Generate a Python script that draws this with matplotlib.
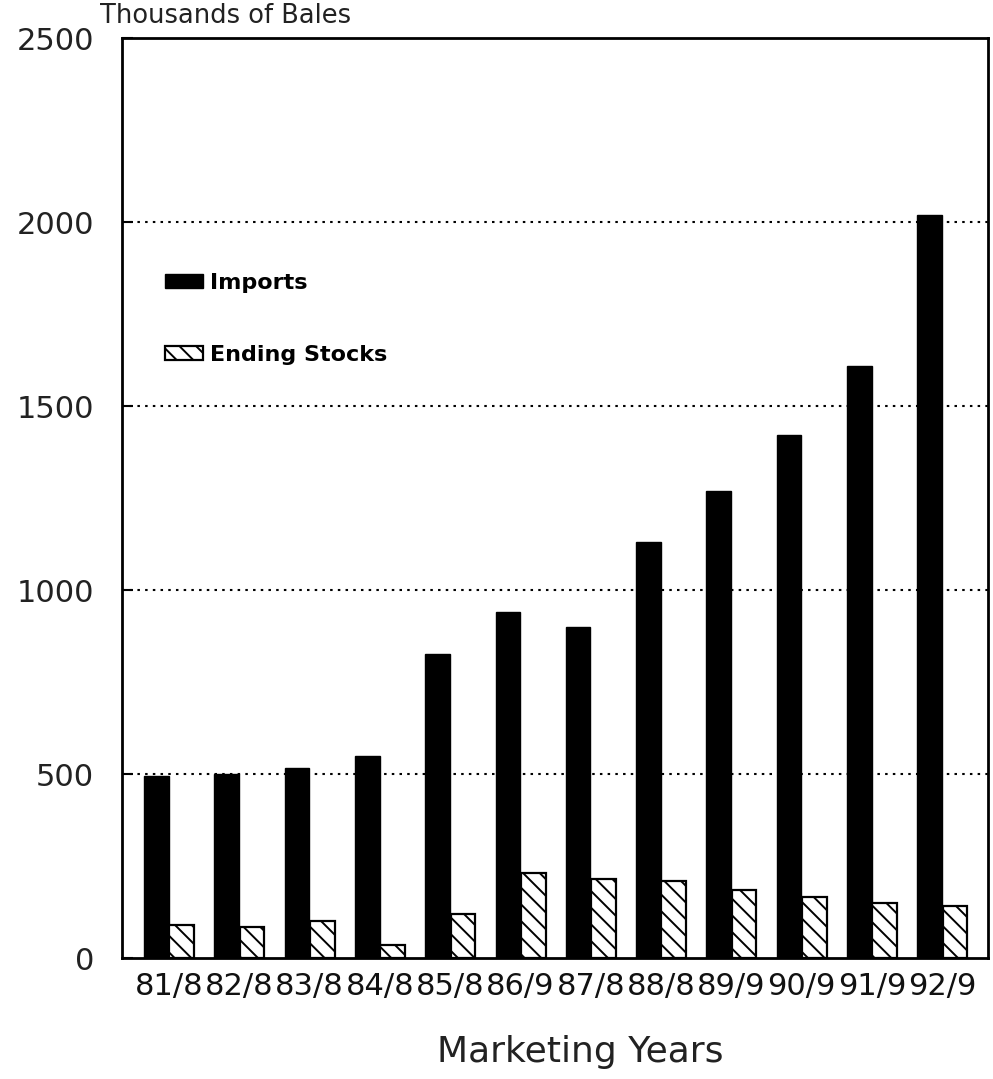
import matplotlib
matplotlib.use("Agg")
import matplotlib.pyplot as plt
import numpy as np

years = ["81/8", "82/8", "83/8", "84/8", "85/8", "86/9", "87/8", "88/8", "89/9", "90/9", "91/9", "92/9"]
imports = [495, 500, 515, 550, 825, 940, 900, 1130, 1270, 1420, 1610, 2020]
ending_stocks = [90, 85, 100, 35, 120, 230, 215, 210, 185, 165, 150, 140]
yticks = [0, 500, 1000, 1500, 2000, 2500]
ytick_labels = ["0", "500", "1000", "1500", "2000", "2500"]

plt.rcParams['font.family'] = ['DejaVu Sans']
plt.rcParams['hatch.linewidth'] = 1.4

fig = plt.figure(figsize=(9.93, 10.79), dpi=100)
ax = fig.add_axes([122/993, 1-958/1079, 866/993, 920/1079])

x = np.arange(len(years))
w = 0.35
ax.bar(x - 0.18, imports, width=w, color='black', edgecolor='black', label='Imports', zorder=3)
ax.bar(x + 0.18, ending_stocks, width=w, color='white', edgecolor='black', linewidth=1.6,
       hatch='\\\\', label='Ending Stocks', zorder=3)

ax.set_xlim(-0.67, 11.65)
ax.set_ylim(0, 2500)
ax.set_yticks(yticks)
ax.set_yticklabels(ytick_labels, fontsize=22, color='#222222')
ax.set_xticks(x)
ax.set_xticklabels(years, fontsize=22, color='#111111')
ax.tick_params(axis='y', direction='in', length=8, width=1.5, pad=20)
ax.tick_params(axis='x', length=0, pad=10)

for v in [500, 1000, 1500, 2000]:
    ax.axhline(v, color='black', linestyle=(0, (1.2, 2.5)), linewidth=1.5, zorder=1)

for s in ax.spines.values():
    s.set_linewidth(2)
    s.set_color('black')

leg = ax.legend(loc='upper left', bbox_to_anchor=(0.05, 0.745), frameon=False,
                prop={'weight': 'bold', 'size': 16}, handlelength=1.7, handleheight=0.6,
                labelspacing=2.35, handletextpad=0.3, borderpad=0, borderaxespad=0)

fig.text(100/993, 1-16/1079, "Thousands of Bales", fontsize=18.5, va='center', ha='left', color='#222222')
fig.text(580/993, 1-1052/1079, "Marketing Years", fontsize=26, va='center', ha='center', color='#222222')

fig.savefig("out.png", dpi=100)
